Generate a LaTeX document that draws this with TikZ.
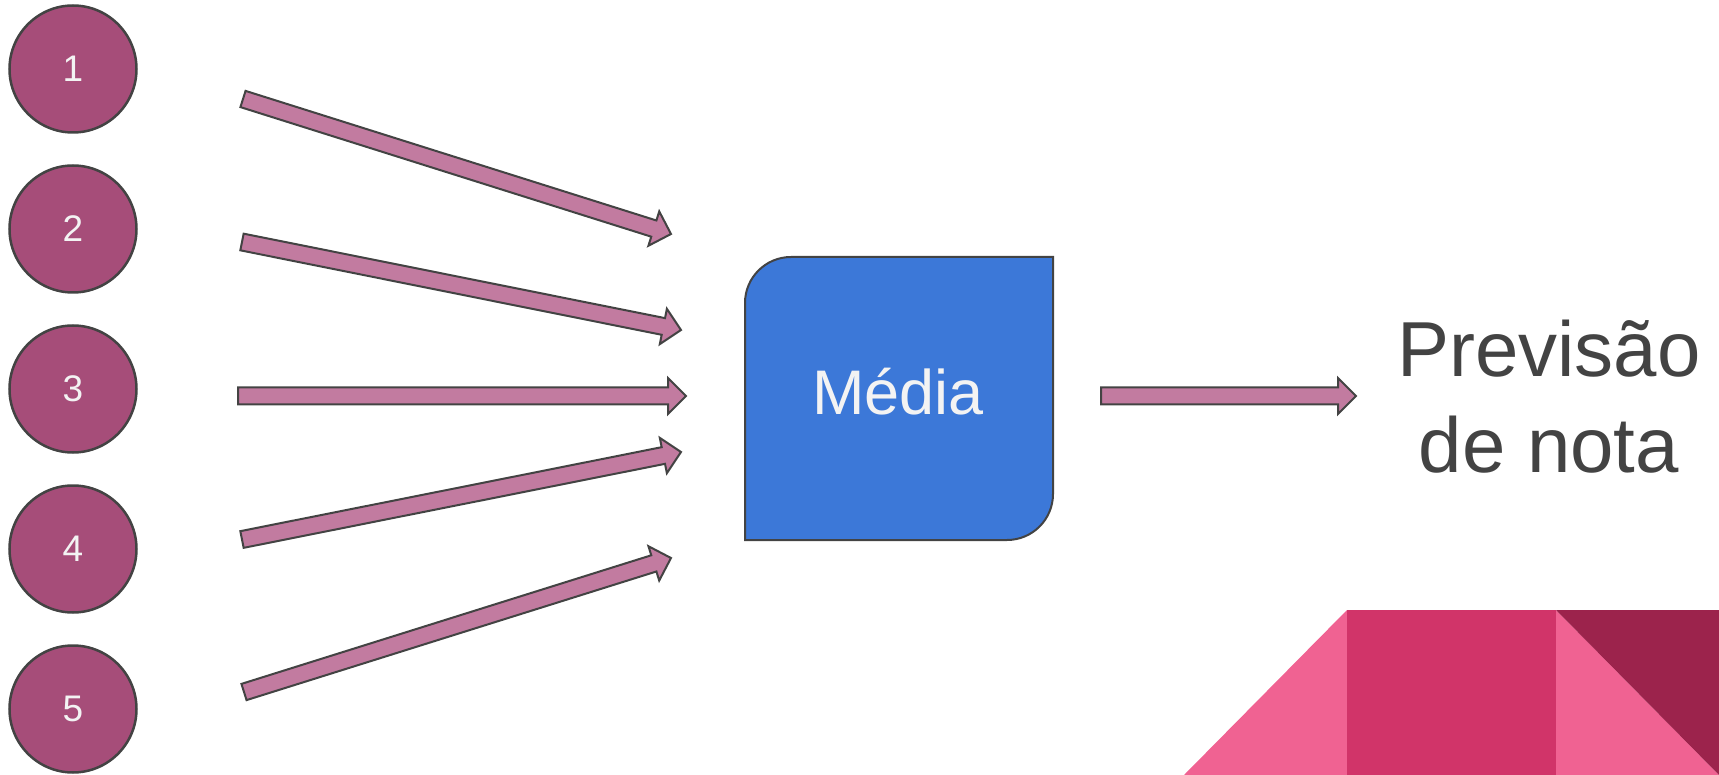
\documentclass[tikz,border=0pt]{standalone}
\usepackage{fontspec}
\setmainfont{Liberation Sans}
\usetikzlibrary{calc}
\definecolor{inputfill}{HTML}{A64D79}
\definecolor{arrowfill}{HTML}{C27BA0}
\definecolor{boxfill}{HTML}{3C78D8}
\definecolor{edgegray}{HTML}{434343}
\definecolor{lighttext}{HTML}{F3F3F3}
\definecolor{pinklight}{HTML}{F06292}
\definecolor{pinkmid}{HTML}{D13469}
\definecolor{pinkdark}{HTML}{9C234C}
\newcommand{\blockarrow}[2]{%
  \coordinate (hb) at ($(#2)!18pt!(#1)$);
  \filldraw[arrowbody] ($(#1)!8.5pt!90:(#2)$) -- ($(hb)!8.5pt!90:(#2)$) -- ($(hb)!18pt!90:(#2)$) -- (#2)
    -- ($(hb)!18pt!-90:(#2)$) -- ($(hb)!8.5pt!-90:(#2)$) -- ($(#1)!8.5pt!-90:(#2)$) -- cycle;}
\begin{document}
\begin{tikzpicture}[x=1pt,y=-1pt,
  input/.style={circle, minimum size=127pt, inner sep=0pt, fill=inputfill, draw=edgegray, line width=2.5pt,
    text=lighttext, font=\fontsize{37}{44}\selectfont},
  arrowbody/.style={fill=arrowfill, draw=edgegray, line width=2pt, line join=miter},
  boxbody/.style={fill=boxfill, draw=edgegray, line width=2pt}]
\useasboundingbox (0,0) rectangle (1719,775);
\node[input] (c1) at (73,69) {1};
\node[input] (c2) at (73,229) {2};
\node[input] (c3) at (73,389) {3};
\node[input] (c4) at (73,549) {4};
\node[input] (c5) at (73,709) {5};
\coordinate (t1) at (243,99);
\coordinate (h1) at (671,234);
\coordinate (t2) at (242,242);
\coordinate (h2) at (681,330);
\coordinate (t3) at (238,396);
\coordinate (h3) at (686,396);
\coordinate (t4) at (242,539.5);
\coordinate (h4) at (681,452);
\coordinate (t5) at (244,692);
\coordinate (h5) at (671,558);
\coordinate (t6) at (1101,396);
\coordinate (h6) at (1356,396);
\foreach \i in {1,...,6} {\blockarrow{t\i}{h\i}}
\filldraw[boxbody] (745,540) -- (745,303) .. controls (745,277.6) and (765.6,257) .. (791,257) -- (1053,257)
  -- (1053,494) .. controls (1053,519.4) and (1032.4,540) .. (1007,540) -- cycle;
\node[text=lighttext, font=\fontsize{63}{75}\selectfont, anchor=base] (media) at (898,415) {Média};
\node[text=edgegray, font=\fontsize{78}{96}\selectfont, align=center, anchor=base] (nota) at (1549,472) {Previsão\\de nota};
\fill[pinklight] (1184,775) -- (1347,610) -- (1347,775) -- cycle;
\fill[pinkmid] (1347,610) rectangle (1556,775);
\fill[pinklight] (1556,610) -- (1719,775) -- (1556,775) -- cycle;
\fill[pinkdark] (1556,610) -- (1719,610) -- (1719,775) -- cycle;
\end{tikzpicture}
\end{document}
